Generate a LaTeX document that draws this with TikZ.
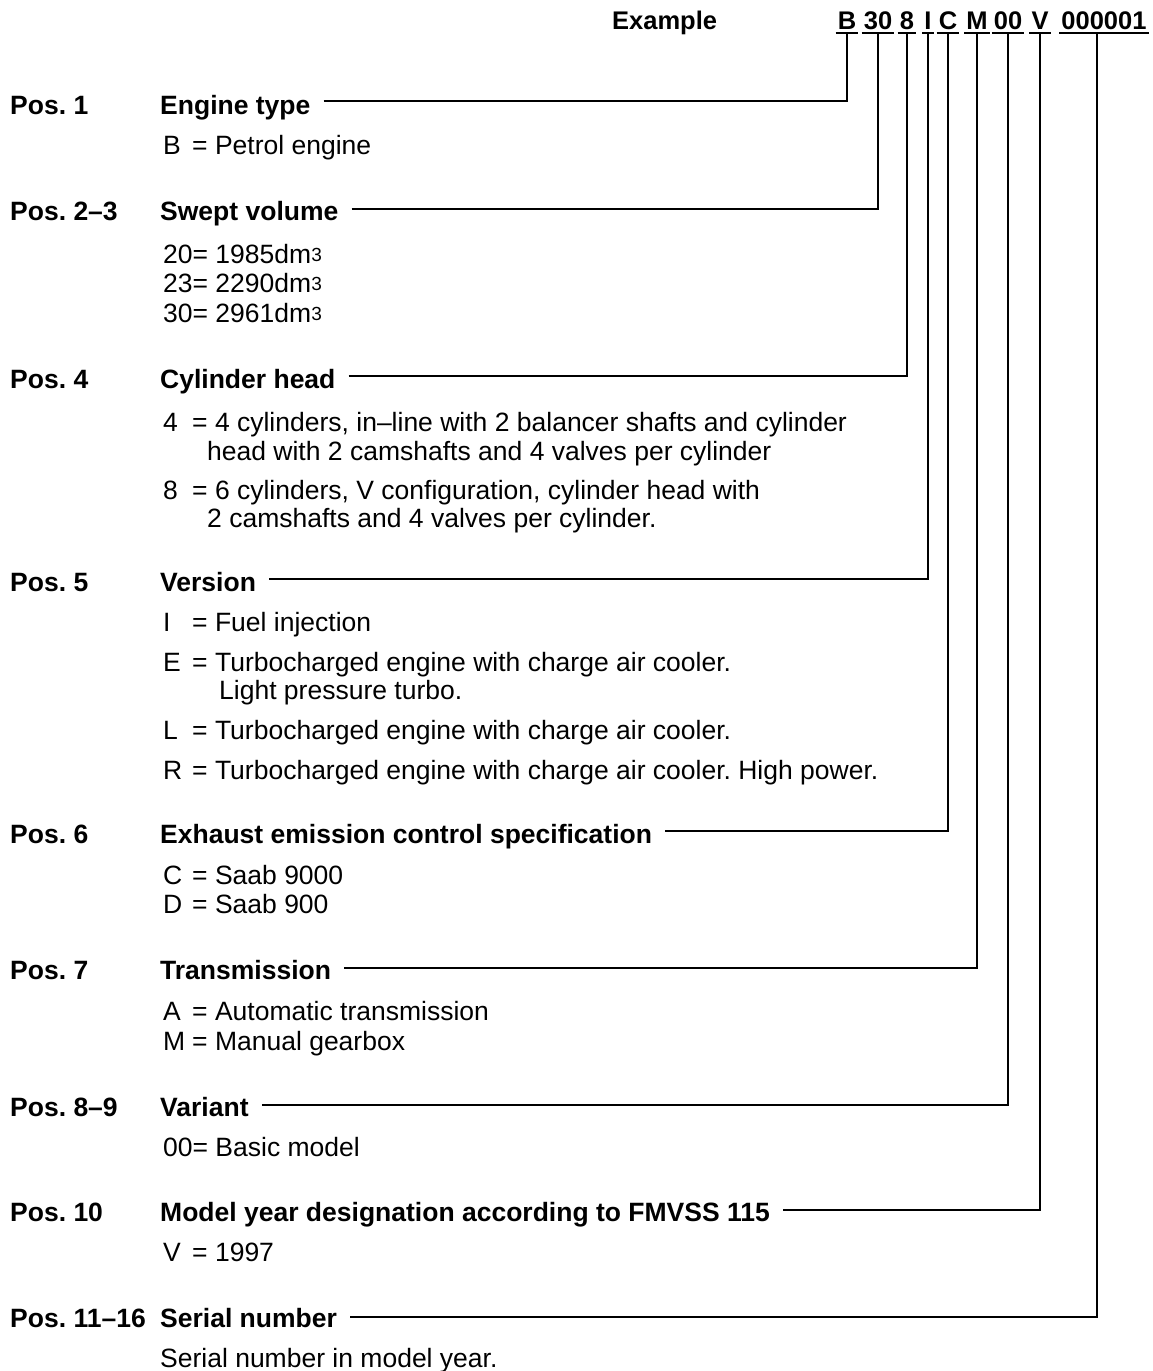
\documentclass[tikz,border=0pt]{standalone}
\usepackage{fontspec}
\setmainfont{Liberation Sans}
\usetikzlibrary{calc}
\frenchspacing
\newcommand\keyeq[1]{\makebox[29pt][l]{#1}= }
\newcommand\supthree{{\fontsize{19}{19}\selectfont\raisebox{2pt}{3}}}
\begin{document}
\frenchspacing
\begin{tikzpicture}[x=1pt,y=-1pt,
  every node/.style={inner sep=0pt},
  poslbl/.style={anchor=base west, font=\fontsize{26.5}{30}\selectfont\bfseries},
  headlbl/.style={anchor=base west, font=\fontsize{26.5}{30}\selectfont\bfseries},
  txt/.style={anchor=base west, font=\fontsize{26.5}{30}\selectfont},
  codegrp/.style={anchor=base, font=\fontsize{25.5}{30}\selectfont\bfseries, text depth=4pt},
  lead/.style={line width=2.8pt},
  uline/.style={line width=2.2pt}]
\useasboundingbox (0,0) rectangle (1152,1371);

% header
\node[codegrp, anchor=base west] (ex) at (612,29) {Example};
\node[codegrp] (g1) at (847,29) {B};
\node[codegrp] (g2) at (878,29) {30};
\node[codegrp] (g3) at (907,29) {8};
\node[codegrp] (g4) at (928,29) {I};
\node[codegrp] (g5) at (948,29) {C};
\node[codegrp] (g6) at (977,29) {M};
\node[codegrp] (g7) at (1008,29) {00};
\node[codegrp] (g8) at (1040,29) {V};
\node[codegrp] (g9) at (1104,29) {000001};
\foreach \g in {g1,g2,g3,g4,g5,g6,g7,g8,g9}
  \draw[uline] ([xshift=-2pt]\g.south west) -- ([xshift=2pt]\g.south east);

% Pos. 1
\node[poslbl] (p1) at (10,114) {Pos. 1};
\node[headlbl] (h1) at (160,114) {Engine type};
\node[txt] (t1a) at (163,154) {\keyeq{B}Petrol engine};

% Pos. 2-3
\node[poslbl] (p2) at (10,220) {Pos. 2--3};
\node[headlbl] (h2) at (160,220) {Swept volume};
\node[txt] (t2a) at (163,263) {20= 1985dm\supthree};
\node[txt] (t2b) at (163,292) {23= 2290dm\supthree};
\node[txt] (t2c) at (163,322) {30= 2961dm\supthree};

% Pos. 4
\node[poslbl] (p3) at (10,388) {Pos. 4};
\node[headlbl] (h3) at (160,388) {Cylinder head};
\node[txt] (t3a) at (163,431) {\keyeq{4}4 cylinders, in--line with 2 balancer shafts and cylinder};
\node[txt] (t3b) at (207,460) {head with 2 camshafts and 4 valves per cylinder};
\node[txt] (t3c) at (163,499) {\keyeq{8}6 cylinders, V configuration, cylinder head with};
\node[txt] (t3d) at (207,527) {2 camshafts and 4 valves per cylinder.};

% Pos. 5
\node[poslbl] (p4) at (10,591) {Pos. 5};
\node[headlbl] (h4) at (160,591) {Version};
\node[txt] (t4a) at (163,631) {\keyeq{I}Fuel injection};
\node[txt] (t4b) at (163,671) {\keyeq{E}Turbocharged engine with charge air cooler.};
\node[txt] (t4c) at (219,699) {Light pressure turbo.};
\node[txt] (t4d) at (163,739) {\keyeq{L}Turbocharged engine with charge air cooler.};
\node[txt] (t4e) at (163,779) {\keyeq{R}Turbocharged engine with charge air cooler. High power.};

% Pos. 6
\node[poslbl] (p5) at (10,843) {Pos. 6};
\node[headlbl] (h5) at (160,843) {Exhaust emission control specification};
\node[txt] (t5a) at (163,884) {\keyeq{C}Saab 9000};
\node[txt] (t5b) at (163,913) {\keyeq{D}Saab 900};

% Pos. 7
\node[poslbl] (p6) at (10,979) {Pos. 7};
\node[headlbl] (h6) at (160,979) {Transmission};
\node[txt] (t6a) at (163,1020) {\keyeq{A}Automatic transmission};
\node[txt] (t6b) at (163,1050) {\keyeq{M}Manual gearbox};

% Pos. 8-9
\node[poslbl] (p7) at (10,1116) {Pos. 8--9};
\node[headlbl] (h7) at (160,1116) {Variant};
\node[txt] (t7a) at (163,1156) {00= Basic model};

% Pos. 10
\node[poslbl] (p8) at (10,1221) {Pos. 10};
\node[headlbl] (h8) at (160,1221) {Model year designation according to FMVSS 115};
\node[txt] (t8a) at (163,1261) {\keyeq{V}1997};

% Pos. 11-16
\node[poslbl] (p9) at (10,1327) {Pos. 11--16};
\node[headlbl] (h9) at (160,1327) {Serial number};
\node[txt] (t9a) at (160,1367) {Serial number in model year.};

% leaders
\draw[lead] ([xshift=13pt,yshift=13pt]h1.base east) -| (g1.south);
\draw[lead] ([xshift=13pt,yshift=11pt]h2.base east) -| (g2.south);
\draw[lead] ([xshift=13pt,yshift=12pt]h3.base east) -| (g3.south);
\draw[lead] ([xshift=13pt,yshift=12pt]h4.base east) -| (g4.south);
\draw[lead] ([xshift=13pt,yshift=12pt]h5.base east) -| (g5.south);
\draw[lead] ([xshift=13pt,yshift=11pt]h6.base east) -| (g6.south);
\draw[lead] ([xshift=13pt,yshift=11pt]h7.base east) -| (g7.south);
\draw[lead] ([xshift=13pt,yshift=11pt]h8.base east) -| (g8.south);
\draw[lead] ([xshift=13pt,yshift=10pt]h9.base east) -| ([xshift=-7pt]g9.south);
\end{tikzpicture}
\end{document}
